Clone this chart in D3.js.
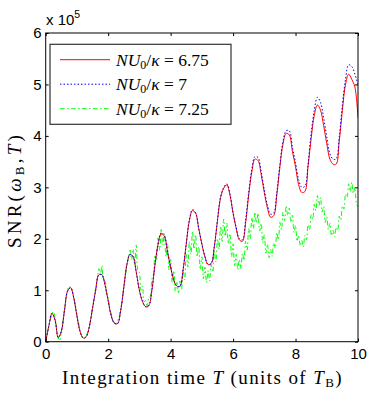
<!DOCTYPE html>
<html>
<head>
<meta charset="utf-8">
<script src="https://cdn.jsdelivr.net/npm/d3@7"></script>
<style>
  body { margin: 0; background: #fff; }
  text { fill: #000; }
</style>
</head>
<body>
<div id="chart"></div>
<script>
// sample spacing (units of T_B)
const tStep = 0.1;
const tGreenStep = 0.05;

// SNR values, in units of 1e5
const snrRed = [
  0, 0.3, 0.55, 0.42, 0.08, 0.2, 0.6, 0.98, 1.05, 0.85,
  0.5, 0.2, 0.07, 0.1, 0.3, 0.65, 1.0, 1.3, 1.3, 1.1,
  0.8, 0.5, 0.36, 0.35, 0.6, 1.05, 1.5, 1.7, 1.65, 1.35,
  1.0, 0.78, 0.68, 0.7, 1.0, 1.5, 1.9, 2.1, 2.05, 1.75,
  1.45, 1.2, 1.08, 1.08, 1.4, 1.9, 2.35, 2.55, 2.5, 2.2,
  1.9, 1.65, 1.5, 1.52, 1.85, 2.35, 2.8, 2.98, 3.05, 2.85,
  2.5, 2.2, 1.98, 1.95, 2.3, 2.85, 3.3, 3.55, 3.52, 3.25,
  2.9, 2.6, 2.42, 2.45, 2.85, 3.4, 3.85, 4.05, 4.02, 3.7,
  3.4, 3.05, 2.9, 2.92, 3.4, 3.95, 4.4, 4.6, 4.5, 4.2,
  3.85, 3.55, 3.45, 3.45, 3.9, 4.5, 5.0, 5.2, 5.1, 4.95,
  4.35
];

const snrBlue = [
  0, 0.3, 0.55, 0.42, 0.08, 0.2, 0.6, 0.98, 1.05, 0.85,
  0.5, 0.2, 0.07, 0.1, 0.3, 0.65, 1.0, 1.3, 1.3, 1.1,
  0.8, 0.5, 0.36, 0.35, 0.6, 1.05, 1.5, 1.7, 1.65, 1.35,
  1.0, 0.78, 0.68, 0.7, 1.0, 1.5, 1.9, 2.12, 2.07, 1.75,
  1.45, 1.2, 1.08, 1.08, 1.4, 1.9, 2.37, 2.57, 2.5, 2.2,
  1.9, 1.65, 1.5, 1.52, 1.85, 2.37, 2.82, 3.0, 3.07, 2.87,
  2.5, 2.22, 2.0, 1.98, 2.35, 2.9, 3.35, 3.6, 3.58, 3.3,
  2.95, 2.65, 2.48, 2.5, 2.9, 3.45, 3.9, 4.1, 4.1, 3.78,
  3.48, 3.15, 3.0, 3.02, 3.45, 4.05, 4.5, 4.75, 4.65, 4.35,
  3.98, 3.65, 3.55, 3.55, 3.98, 4.6, 5.1, 5.38, 5.35, 5.2,
  5.0
];

// green curve is noisier, sampled every 0.05
const snrGreen = [
  0, 0.15, 0.32, 0.42, 0.55, 0.58, 0.45, 0.28, 0.08, 0.02,
  0.22, 0.42, 0.62, 0.85, 1.0, 1.08, 1.02, 0.98, 0.82, 0.7,
  0.52, 0.38, 0.22, 0.12, 0.08, 0.06, 0.12, 0.2, 0.32, 0.48,
  0.68, 0.85, 1.05, 1.2, 1.42, 1.3, 1.48, 1.2, 1.18, 0.92,
  0.85, 0.62, 0.55, 0.4, 0.38, 0.34, 0.4, 0.48, 0.65, 0.8,
  1.05, 1.25, 1.5, 1.62, 1.78, 1.6, 1.8, 1.5, 1.88, 1.4,
  1.35, 1.0, 1.08, 0.78, 0.8, 0.66, 0.85, 0.88, 1.22, 1.3,
  1.68, 1.6, 2.02, 1.78, 2.18, 1.88, 2.1, 1.65, 1.9, 1.4,
  1.6, 1.15, 1.38, 0.98, 1.15, 0.95, 1.18, 1.02, 1.4, 1.2,
  1.7, 1.45, 1.95, 1.7, 2.15, 1.8, 2.08, 1.65, 1.85, 1.4,
  1.65, 1.22, 1.45, 1.15, 1.38, 1.18, 1.5, 1.35, 1.75, 1.55,
  2.0, 1.8, 2.25, 1.95, 2.38, 2.05, 2.3, 1.9, 2.1, 1.65,
  1.9, 1.48, 1.7, 1.4, 1.6, 1.42, 1.72, 1.58, 1.95, 1.78,
  2.2, 2.0, 2.42, 2.2, 2.52, 2.3, 2.5, 2.15, 2.3, 1.92,
  2.08, 1.72, 1.9, 1.63, 1.8, 1.66, 1.92, 1.82, 2.12, 1.98,
  2.32, 2.18, 2.52, 2.35, 2.64, 2.45, 2.6, 2.32, 2.46, 2.12,
  2.26, 1.95, 2.07, 1.86, 1.97, 1.84, 2.07, 1.98, 2.27, 2.18,
  2.47, 2.38, 2.67, 2.55, 2.84, 2.65, 2.8, 2.52, 2.63, 2.32,
  2.43, 2.18, 2.3, 2.06, 2.17, 2.04, 2.22, 2.16, 2.44, 2.36,
  2.64, 2.58, 2.87, 2.8, 3.07, 2.92, 3.1, 2.88, 3.0, 2.68,
  2.62
];

const xTicks = [0, 2, 4, 6, 8, 10];
const yTicks = [0, 1, 2, 3, 4, 5, 6];
const legendValues = ["6.75", "7", "7.25"];

const width = 374, height = 394;
const margin = { top: 33, right: 16, bottom: 52.3, left: 45.7 };

const svg = d3.select("#chart").append("svg")
  .attr("width", width)
  .attr("height", height);

const x = d3.scaleLinear().domain([0, 10]).range([margin.left, width - margin.right]);
const y = d3.scaleLinear().domain([0, 6]).range([height - margin.bottom, margin.top]);

const series = [
  { values: snrRed, step: tStep, color: "#ff0000", dash: null },
  { values: snrBlue, step: tStep, color: "#0000ff", dash: "1.5,2" },
  { values: snrGreen, step: tGreenStep, color: "#00ff00", dash: "4.5,2.5,1.5,2.5" }
];

const line = d3.line()
  .x(d => x(d[0]))
  .y(d => y(d[1]))
  .curve(d3.curveCatmullRom);

const plot = svg.append("g");
plot.append("clipPath").attr("id", "clip")
  .append("rect")
  .attr("x", x(0)).attr("y", y(6))
  .attr("width", x(10) - x(0)).attr("height", y(0) - y(6));

// green first so red and blue sit on top
[series[2], series[0], series[1]].forEach(s => {
  const pts = s.values.map((v, i) => [Math.round(i * s.step * 100) / 100, v]);
  plot.append("path")
    .datum(pts)
    .attr("clip-path", "url(#clip)")
    .attr("fill", "none")
    .attr("stroke", s.color)
    .attr("stroke-width", 1)
    .attr("stroke-dasharray", s.dash)
    .attr("d", line);
});

// axes, ticks pointing inward on all four sides
const tickFont = "'Liberation Sans', Arial, sans-serif";
const tickSize = 15;

svg.append("g")
  .attr("transform", `translate(0,${y(0)})`)
  .call(d3.axisBottom(x).tickValues(xTicks).tickFormat(d3.format("d"))
    .tickSizeInner(-3).tickSizeOuter(0).tickPadding(7))
  .call(g => g.select(".domain").remove())
  .call(g => g.selectAll("text").attr("font-size", tickSize).attr("font-family", tickFont));

svg.append("g")
  .attr("transform", `translate(0,${y(6)})`)
  .call(d3.axisTop(x).tickValues(xTicks).tickSizeInner(-3).tickSizeOuter(0).tickFormat(""))
  .call(g => g.select(".domain").remove());

svg.append("g")
  .attr("transform", `translate(${x(0)},0)`)
  .call(d3.axisLeft(y).tickValues(yTicks).tickFormat(d3.format("d"))
    .tickSizeInner(-3).tickSizeOuter(0).tickPadding(4))
  .call(g => g.select(".domain").remove())
  .call(g => g.selectAll("text").attr("font-size", tickSize).attr("font-family", tickFont));

svg.append("g")
  .attr("transform", `translate(${x(10)},0)`)
  .call(d3.axisRight(y).tickValues(yTicks).tickSizeInner(-3).tickSizeOuter(0).tickFormat(""))
  .call(g => g.select(".domain").remove());

svg.append("rect")
  .attr("x", x(0)).attr("y", y(6))
  .attr("width", x(10) - x(0)).attr("height", y(0) - y(6))
  .attr("fill", "none")
  .attr("stroke", "#000")
  .attr("stroke-width", 1);

// exponent label
const expo = svg.append("text")
  .attr("x", 46).attr("y", 25)
  .attr("font-family", tickFont)
  .attr("font-size", tickSize);
expo.append("tspan").text("x 10");
expo.append("tspan").attr("dy", -7).attr("font-size", 10.5).text("5");

const serif = "'Liberation Serif', 'DejaVu Serif', serif";

// stretch letter spacing so a label fills the same length as the reference
function fitLength(textSel, target) {
  const len = textSel.node().getComputedTextLength();
  const n = textSel.text().length;
  textSel.attr("letter-spacing", (target - len) / n);
}

// x axis label
const xl = svg.append("text")
  .attr("x", 202.5)
  .attr("y", 384)
  .attr("text-anchor", "middle")
  .attr("font-family", serif)
  .attr("font-size", 19);
xl.append("tspan").text("Integration time ");
xl.append("tspan").attr("font-style", "italic").text("T");
xl.append("tspan").text(" (units of ");
xl.append("tspan").attr("font-style", "italic").text("T");
xl.append("tspan").attr("font-size", 13).attr("dy", 3).text("B");
xl.append("tspan").attr("dy", -3).text(")");
fitLength(xl, 281);

// y axis label
const yl = svg.append("text")
  .attr("transform", `translate(20.5,190) rotate(-90)`)
  .attr("text-anchor", "middle")
  .attr("font-family", serif)
  .attr("font-size", 19);
yl.append("tspan").text("SNR(");
yl.append("tspan").attr("font-style", "italic").text("ω");
yl.append("tspan").attr("font-size", 13).attr("dy", 3).text("B");
yl.append("tspan").attr("dy", -3).text(",");
yl.append("tspan").attr("font-style", "italic").text("T");
yl.append("tspan").text(")");
fitLength(yl, 116);

// legend
const leg = svg.append("g").attr("transform", "translate(50,44.3)");
leg.append("rect")
  .attr("width", 181).attr("height", 80)
  .attr("fill", "#fff")
  .attr("stroke", "#333")
  .attr("stroke-width", 1.2);

series.forEach((s, i) => {
  const ly = 15.4 + i * 24.5;
  leg.append("line")
    .attr("x1", 10).attr("x2", 60)
    .attr("y1", ly).attr("y2", ly)
    .attr("stroke", s.color)
    .attr("stroke-width", 1)
    .attr("stroke-dasharray", s.dash);
  const t = leg.append("text")
    .attr("x", 66).attr("y", ly + 6)
    .attr("font-family", serif)
    .attr("font-size", 17.5);
  t.append("tspan").attr("font-style", "italic").text("NU");
  t.append("tspan").attr("font-size", 12).attr("dy", 3).text("0");
  t.append("tspan").attr("dy", -3).text("/");
  t.append("tspan").attr("font-style", "italic").text("κ");
  t.append("tspan").text(" = " + legendValues[i]);
});
</script>
</body>
</html>
